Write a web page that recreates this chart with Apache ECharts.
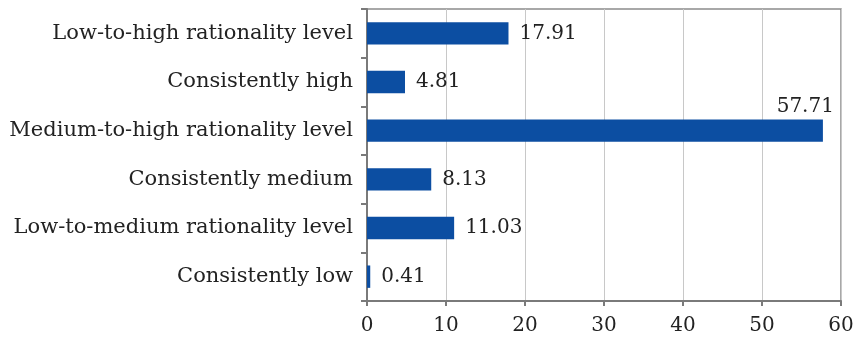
<!DOCTYPE html>
<html>
<head>
<meta charset="utf-8">
<script src="https://cdn.jsdelivr.net/npm/echarts@6/dist/echarts.min.js"></script>
<style>
  html, body { margin: 0; padding: 0; background: #fff; }
  #chart { width: 857px; height: 337px; }
</style>
</head>
<body>
<div id="chart"></div>
<script>
// Rationality level categories, top to bottom
const categories = [
  'Low-to-high rationality level',
  'Consistently high',
  'Medium-to-high rationality level',
  'Consistently medium',
  'Low-to-medium rationality level',
  'Consistently low'
];
// Share of respondents (%)
const values = [17.91, 4.81, 57.71, 8.13, 11.03, 0.41];
const xTicks = [0, 10, 20, 30, 40, 50, 60];

const FONT = 'DejaVu Serif';
const barColor = '#0c4ea2';

const chart = echarts.init(document.getElementById('chart'), null, { renderer: 'canvas' });

// Longest bar carries its label above the bar's right end; the rest sit to the right
const seriesData = values.map(function (v) {
  if (v === Math.max.apply(null, values)) {
    return {
      value: v,
      label: {
        position: ['100%', 0],
        align: 'right',
        verticalAlign: 'bottom',
        offset: [11, -3]
      }
    };
  }
  return { value: v };
});

chart.setOption({
  animation: false,
  grid: {
    left: 367, right: 16, top: 9, bottom: 36,
    show: true,
    borderColor: '#8c8c8c',
    borderWidth: 1.5,
    backgroundColor: 'transparent'
  },
  xAxis: {
    type: 'value',
    min: xTicks[0],
    max: xTicks[xTicks.length - 1],
    interval: 10,
    axisLine: { show: true, lineStyle: { color: '#7a7a7a', width: 2 } },
    axisTick: { show: true, length: 5, lineStyle: { color: '#7a7a7a', width: 2 } },
    axisLabel: { color: '#222', fontFamily: FONT, fontSize: 20, margin: 15 },
    splitLine: { show: true, lineStyle: { color: '#c8c8c8', width: 1 } }
  },
  yAxis: {
    type: 'category',
    inverse: true,
    data: categories,
    axisLine: { show: true, lineStyle: { color: '#7a7a7a', width: 2 } },
    axisTick: { show: true, length: 6, alignWithLabel: false, lineStyle: { color: '#7a7a7a', width: 2 } },
    axisLabel: { color: '#222', fontFamily: FONT, fontSize: 21, margin: 14 }
  },
  series: [{
    type: 'bar',
    data: seriesData,
    barWidth: '46%',
    itemStyle: { color: barColor },
    label: {
      show: true,
      position: 'right',
      distance: 11,
      color: '#222',
      fontFamily: FONT,
      fontSize: 20,
      formatter: function (p) { return p.value.toFixed(2); }
    }
  }]
});
</script>
</body>
</html>
